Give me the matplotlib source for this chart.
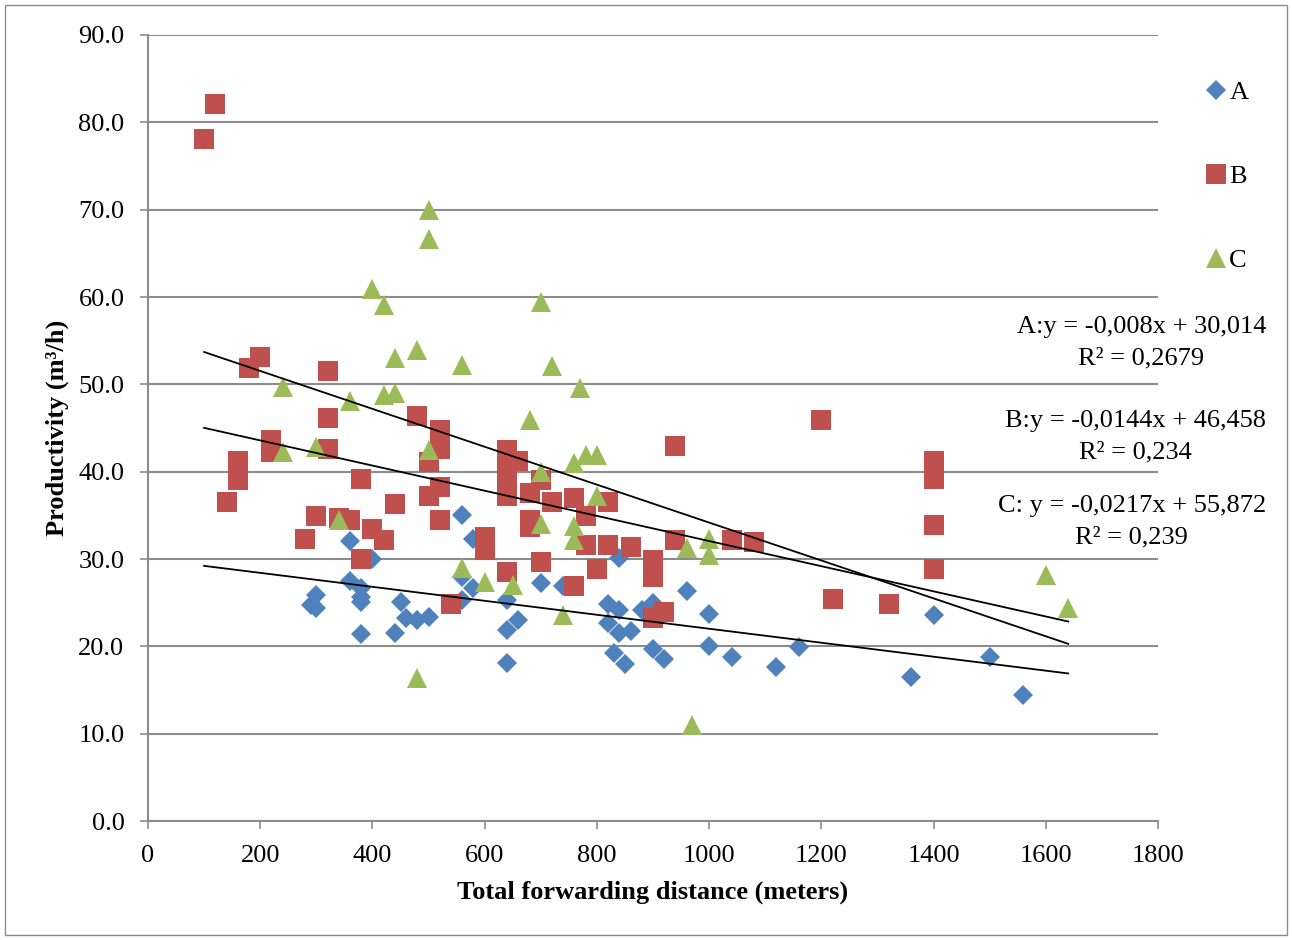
import matplotlib
matplotlib.use("Agg")
import matplotlib.pyplot as plt
from matplotlib.patches import Rectangle
from matplotlib.ticker import FormatStrFormatter, MultipleLocator
import numpy as np

plt.rcParams['font.family'] = ['Liberation Serif', 'DejaVu Serif']

# Series A
a_x = [290, 300, 300, 360, 360, 380, 380, 380, 380, 400, 440, 450, 460, 480, 500,
       560, 560, 560, 580, 580, 640, 640, 640, 660, 700, 740, 820, 820, 830, 840,
       840, 840, 850, 860, 880, 900, 900, 920, 960, 1000, 1000, 1040, 1120, 1160,
       1360, 1400, 1500, 1560]
a_y = [24.7, 25.9, 24.4, 32.1, 27.5, 26.7, 25.7, 25.1, 21.4, 30.0, 21.5, 25.1, 23.2, 23.0, 23.4,
       35.0, 27.9, 25.3, 32.3, 26.7, 25.3, 21.9, 18.1, 23.0, 27.3, 26.9, 24.9, 22.7, 19.2, 24.2,
       21.5, 30.1, 18.0, 21.8, 24.2, 25.0, 19.7, 18.5, 26.3, 23.7, 20.0, 18.8, 17.6, 19.9,
       16.5, 23.6, 18.8, 14.4]

# Series B
b_x = [100, 120, 140, 160, 160, 160, 180, 200, 220, 220, 280, 300, 320, 320, 320,
       340, 360, 380, 380, 400, 420, 440, 480, 500, 500, 520, 520, 520, 520, 540,
       600, 600, 640, 640, 640, 640, 640, 660, 680, 680, 680, 700, 700, 720, 760,
       760, 780, 780, 800, 820, 820, 860, 900, 900, 900, 920, 940, 940, 1040, 1080,
       1200, 1220, 1320, 1400, 1400, 1400, 1400]
b_y = [78.1, 82.1, 36.5, 41.2, 40.0, 39.0, 51.9, 53.1, 43.6, 42.2, 32.3, 34.9, 51.5, 46.1, 42.6,
       34.7, 34.5, 39.2, 30.0, 33.4, 32.2, 36.3, 46.4, 41.1, 37.2, 44.8, 42.6, 38.2, 34.5, 24.8,
       32.5, 31.0, 42.5, 40.5, 39.3, 37.2, 28.5, 41.2, 37.6, 34.5, 33.7, 39.0, 29.7, 36.5, 37.0,
       26.9, 34.9, 31.6, 28.8, 31.6, 36.5, 31.4, 29.9, 27.9, 23.2, 23.9, 42.9, 32.2, 32.2, 32.0,
       45.9, 25.4, 24.8, 41.2, 39.2, 33.9, 28.9]

# Series C
c_x = [240, 240, 300, 340, 360, 400, 420, 420, 440, 440, 480, 480, 500, 500, 500,
       560, 560, 600, 650, 680, 700, 700, 700, 720, 740, 760, 760, 760, 770, 780,
       800, 800, 960, 970, 1000, 1000, 1600, 1640]
c_y = [49.7, 42.3, 42.8, 34.5, 48.1, 60.9, 59.1, 48.8, 53.0, 49.0, 53.9, 16.4, 70.0, 66.6, 42.5,
       52.2, 29.0, 27.4, 27.0, 45.9, 59.4, 40.0, 34.0, 52.1, 23.6, 41.0, 33.8, 32.2, 49.6, 41.9,
       41.9, 37.2, 31.3, 11.0, 32.3, 30.5, 28.2, 24.4]

# trend line coefficients (slope, intercept) from the chart
trend_a = (-0.008, 30.014)
trend_b = (-0.0144, 46.458)
trend_c = (-0.0217, 55.872)
trend_x = [100, 1640]

eq_labels = ["A:y = -0,008x + 30,014\nR² = 0,2679",
             "B:y = -0,0144x + 46,458\nR² = 0,234",
             "C: y = -0,0217x + 55,872\nR² = 0,239"]

blue = '#4F81BD'
red = '#C0504D'
green = '#9BBB59'

W, H = 1292, 940
fig = plt.figure(figsize=(W / 100, H / 100), dpi=100)
fig.patches.append(Rectangle((5 / W, 5 / H), 1 - 10 / W, 1 - 10 / H, transform=fig.transFigure,
                             fill=False, edgecolor='#8c8c8c', linewidth=1.0))

ax = fig.add_axes([148 / W, (H - 821) / H, 1010 / W, 786 / H])

ax.plot(a_x, a_y, 'D', color=blue, markersize=10, markeredgewidth=0, label='A', zorder=3)
ax.plot(b_x, b_y, 's', color=red, markersize=14, markeredgewidth=0, label='B', zorder=3)
ax.plot(c_x, c_y, '^', color=green, markersize=15, markeredgewidth=0, label='C', zorder=3)

tx = np.array(trend_x)
for m, b in (trend_a, trend_b, trend_c):
    ax.plot(tx, m * tx + b, color='black', linewidth=1.3, zorder=4)

ax.set_xlim(0, 1800)
ax.set_ylim(0, 90)
ax.xaxis.set_major_locator(MultipleLocator(200))
ax.yaxis.set_major_locator(MultipleLocator(10))
ax.yaxis.set_major_formatter(FormatStrFormatter('%.1f'))
ax.grid(axis='y', color='#8c8c8c', linewidth=1.5)
ax.set_axisbelow(True)
for s in ('top', 'right'):
    ax.spines[s].set_visible(False)
for s in ('left', 'bottom'):
    ax.spines[s].set_color('#8c8c8c')
    ax.spines[s].set_linewidth(1.5)
ax.tick_params(colors='#8c8c8c', labelcolor='black', labelsize=19, length=6, width=1.2)
ax.tick_params(axis='y', pad=11)
ax.tick_params(axis='x', pad=11)

ax.set_xlabel('Total forwarding distance (meters)', fontsize=19, fontweight='bold', labelpad=10)
ax.set_ylabel('Productivity (m³/h)', fontsize=19, fontweight='bold', labelpad=7)

fig.legend(loc='upper left', bbox_to_anchor=(1195 / W, 1 - 70 / H), frameon=False,
           fontsize=19, labelspacing=2.3, handlelength=0.8, handletextpad=0.1,
           borderaxespad=0)

for lab, yy in zip(eq_labels, [326, 420, 505]):
    fig.text(1266 / W, 1 - (yy - 10) / H, lab, ha='right', va='top', multialignment='center',
             fontsize=19, linespacing=1.55)

fig.savefig('out.png', dpi=100)
